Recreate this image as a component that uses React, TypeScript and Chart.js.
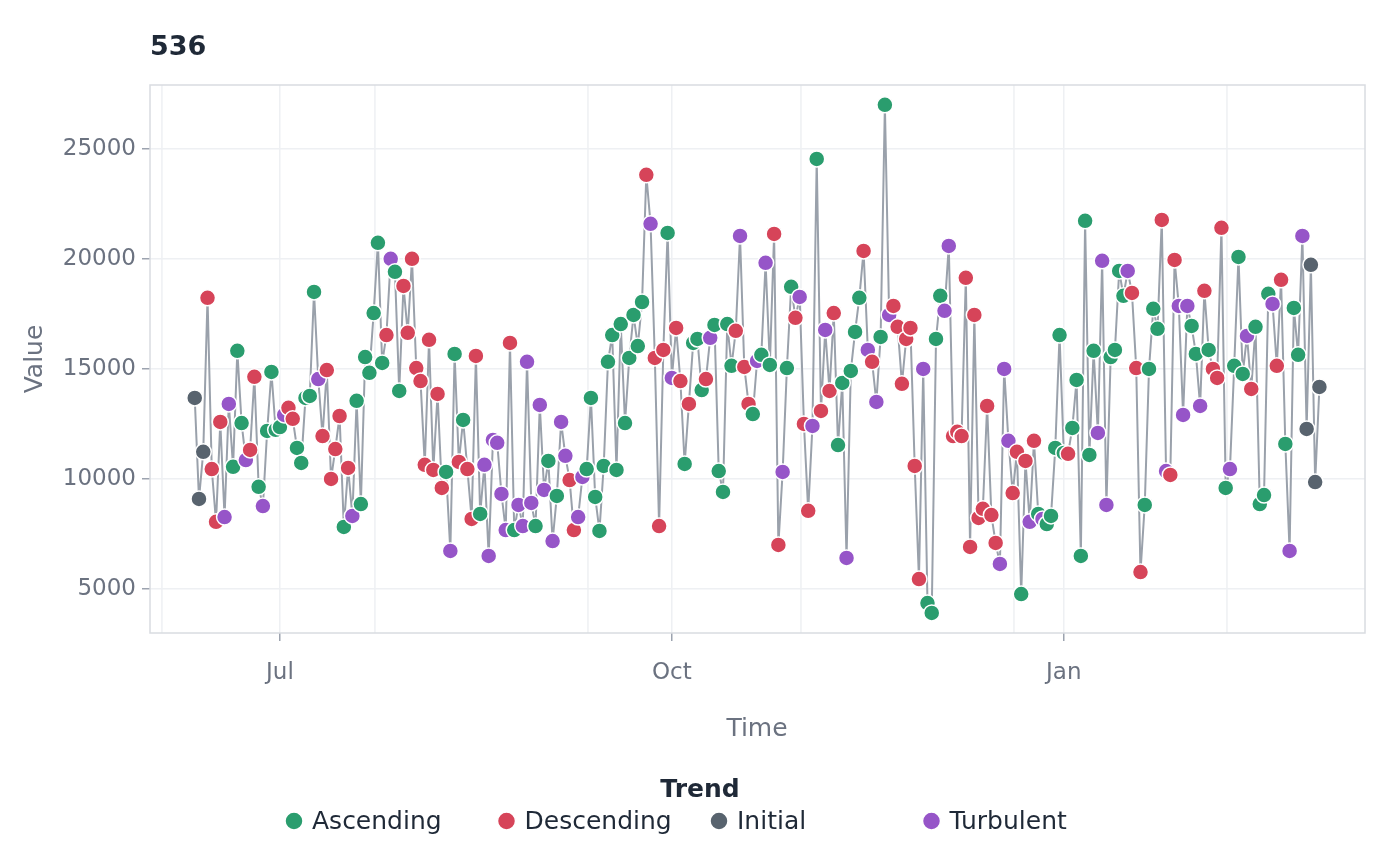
import React, { useEffect, useRef } from "react";
import { Chart, registerables } from "chart.js";
Chart.register(...registerables);

// day offset relative to Jul 1 of first observation (daily series)
const startDay = -20;
const values = [
13680,9090,11230,18230,10450,8050,12590,8270,13410,10550,15820,12540,10860,11320,14640,9640,8770,12180,14860,12230,
12360,12910,13230,12730,11410,10730,13680,13770,18500,14540,11950,14950,10000,11360,12860,7820,10500,8320,13550,8860,
15540,14820,17540,20730,15270,16540,20000,19410,14000,18770,16640,20000,15040,14450,10640,16320,10410,13860,9590,10320,
6730,15680,10770,12680,10450,8180,15590,8410,10640,6500,11770,11640,9320,7680,16180,7680,8820,7860,15320,8910,
7860,13360,9500,10820,7180,9230,12590,11050,9950,7680,8270,10090,10450,13680,9180,7640,10590,15320,16540,10410,
17040,12540,15500,17450,16040,18040,23820,21590,15500,7860,15860,21180,14590,16860,14450,10680,13410,16180,16360,14040,
14540,16410,17000,10360,9410,17040,15140,16730,21040,15090,13410,12950,15360,15640,19820,15180,21130,7000,10320,15040,
18730,17320,18270,12500,8550,12410,24540,13090,16770,14000,17540,11540,14360,6410,14910,16680,18230,20360,15860,15320,
13500,16450,27000,17450,17860,16910,14320,16360,16860,10590,5450,15000,4360,3910,16360,18320,17640,20590,11950,12140,
11950,19140,6910,17450,8230,8640,13320,8360,7090,6140,15000,11730,9360,11230,4770,10820,8050,11730,8410,8180,
7950,8320,11410,16540,11180,11140,12320,14500,6500,21730,11090,15820,12090,19910,8820,15540,15860,19450,18320,19450,
18450,15040,5770,8820,15000,17730,16820,21770,10360,10180,19950,17860,12910,17860,16950,15680,13320,18550,15860,15000,
14590,21410,9590,10450,15140,20090,14770,16500,14090,16910,8860,9270,18410,17950,15140,19050,11590,6730,17770,15640,
21040,12270,19730,9860,14180];
const trends = (
"IIIDDDDTTAAATDDATAAAATDDAAAAATDDDDDADTAAAAAAADTAADDDDDDDDDDATADADDDATTTTTTDATTTTATTATATTDDTTAAAAAAAAAAAAAADTDDDATDDADAAADTAAAAADTDDATATADDTAADTDDTADTDDAATAAADTDTAATDDDDDDDTAAAATTDDDDDDDDDDDTTTDDADTDATAAAAADAAAAAATTTAAAATDDDAAAADTDDTTTAATDADDDATAAATDAAAATDDATAATIII"
).split("");
const trendNames: Record<string, string> = { A: "Ascending", D: "Descending", I: "Initial", T: "Turbulent" };
const trendColors: Record<string, string> = { A: "#2a9d6e", D: "#d64459", I: "#58636e", T: "#9655c8" };
const legendOrder = ["A", "D", "I", "T"];
const majorTickDays = [0, 92, 184];
const majorTickLabels = ["Jul", "Oct", "Jan"];
const minorGridDays = [-27.7, 22.3, 72.3, 122.3, 172.3, 222.3];

export default function App() {
  const ref = useRef<HTMLCanvasElement>(null);
  useEffect(() => {
    document.body.style.margin = "0";
    const font = "'DejaVu Sans', sans-serif";
    const pts = values.map((v, i) => ({ x: startDay + i, y: v }));
    const cols = values.map((_, i) => trendColors[trends[i]] || "#58636e");
    const deco = {
      id: "deco",
      beforeDatasetsDraw(c: any) {
        const { ctx, chartArea: a, scales } = c;
        ctx.save();
        ctx.strokeStyle = "#eef0f3";
        ctx.lineWidth = 1.5;
        minorGridDays.forEach((d) => {
          const x = scales.x.getPixelForValue(d);
          ctx.beginPath(); ctx.moveTo(x, a.top); ctx.lineTo(x, a.bottom); ctx.stroke();
        });
        ctx.strokeStyle = "#d9dce1";
        ctx.lineWidth = 1.5;
        ctx.strokeRect(a.left, a.top, a.right - a.left, a.bottom - a.top);
        ctx.restore();
      },
      afterDraw(c: any) {
        const { ctx } = c;
        ctx.save();
        ctx.fillStyle = "#1f2937";
        ctx.font = `bold 27px ${font}`;
        ctx.textBaseline = "middle";
        ctx.textAlign = "left";
        ctx.fillText("536", 150, 48);
        ctx.fillStyle = "#6b7280";
        ctx.font = `25px ${font}`;
        ctx.textAlign = "center";
        ctx.fillText("Time", 757, 729);
        ctx.save();
        ctx.translate(35, 359);
        ctx.rotate(-Math.PI / 2);
        ctx.fillText("Value", 0, 0);
        ctx.restore();
        ctx.fillStyle = "#1f2937";
        ctx.font = `bold 25px ${font}`;
        ctx.fillText("Trend", 700, 790);
        ctx.font = `25px ${font}`;
        ctx.textAlign = "left";
        legendOrder.forEach((k, i) => {
          const x = 294 + i * 212.5;
          ctx.beginPath();
          ctx.arc(x, 821, 9, 0, Math.PI * 2);
          ctx.fillStyle = trendColors[k];
          ctx.fill();
          ctx.strokeStyle = "#fff"; ctx.lineWidth = 1.5; ctx.stroke();
          ctx.fillStyle = "#1f2937";
          ctx.fillText(trendNames[k], x + 18, 822);
        });
        ctx.restore();
      },
    };
    const chart = new Chart(ref.current!, {
      type: "scatter",
      data: {
        datasets: [{
          data: pts,
          showLine: true,
          borderColor: "#9aa1ab",
          borderWidth: 2,
          pointRadius: 8,
          pointBackgroundColor: cols,
          pointBorderColor: "#ffffff",
          pointBorderWidth: 1.5,
        }],
      },
      options: {
        animation: false,
        responsive: false,
        layout: { padding: { top: 85, right: 35, left: 0, bottom: 0 } },
        plugins: { legend: { display: false }, tooltip: { enabled: false } },
        scales: {
          x: {
            type: "linear",
            min: -30.5,
            max: 254.7,
            afterFit: (s: any) => { s.height = 233; },
            afterBuildTicks: (s: any) => { s.ticks = majorTickDays.map((v) => ({ value: v })); },
            ticks: {
              callback: (v: any) => majorTickLabels[majorTickDays.indexOf(v)] ?? "",
              color: "#6b7280",
              font: { size: 23, family: font },
              padding: 18,
              autoSkip: false,
              maxRotation: 0,
            },
            grid: { color: "#eef0f3", lineWidth: 1.5, tickLength: 8, tickColor: "#9ca3af", drawTicks: true },
            border: { display: false },
          },
          y: {
            min: 3000,
            max: 27900,
            afterFit: (s: any) => { s.width = 150; },
            afterBuildTicks: (s: any) => { s.ticks = [5000, 10000, 15000, 20000, 25000].map((v) => ({ value: v })); },
            ticks: { color: "#6b7280", font: { size: 23, family: font }, padding: 6, callback: (v: any) => String(v) },
            grid: { color: "#eef0f3", lineWidth: 1.5, tickLength: 8, tickColor: "#9ca3af" },
            border: { display: false },
          },
        },
      },
      plugins: [deco],
    });
    return () => chart.destroy();
  }, []);
  return <canvas ref={ref} width={1400} height={866} style={{ display: "block" }} />;
}
